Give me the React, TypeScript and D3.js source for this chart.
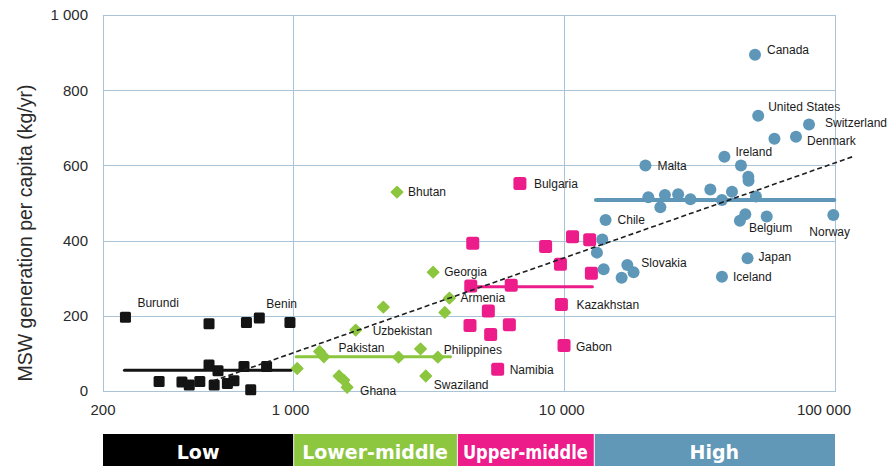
import { useEffect, useRef } from 'react';
import * as d3 from 'd3';

// GDP per capita (US$) vs MSW generation per capita (kg/yr)
const lowIncome = [
  { gdp: 242, msw: 196, name: 'Burundi' },
  { gdp: 492, msw: 179 },
  { gdp: 676, msw: 182 },
  { gdp: 754, msw: 194, name: 'Benin' },
  { gdp: 978, msw: 182 },
  { gdp: 322, msw: 25 },
  { gdp: 391, msw: 24 },
  { gdp: 416, msw: 16 },
  { gdp: 455, msw: 25 },
  { gdp: 492, msw: 69 },
  { gdp: 531, msw: 54 },
  { gdp: 514, msw: 16 },
  { gdp: 575, msw: 20 },
  { gdp: 608, msw: 27 },
  { gdp: 662, msw: 65 },
  { gdp: 701, msw: 3 },
  { gdp: 802, msw: 65 },
];

const lowerMiddle = [
  { gdp: 2427, msw: 529, name: 'Bhutan' },
  { gdp: 3298, msw: 316, name: 'Georgia' },
  { gdp: 3788, msw: 247, name: 'Armenia' },
  { gdp: 2161, msw: 223 },
  { gdp: 3641, msw: 209 },
  { gdp: 1709, msw: 162, name: 'Uzbekistan' },
  { gdp: 1257, msw: 105, name: 'Pakistan' },
  { gdp: 1304, msw: 91 },
  { gdp: 2459, msw: 90 },
  { gdp: 2963, msw: 112 },
  { gdp: 3433, msw: 90, name: 'Philippines' },
  { gdp: 1040, msw: 60 },
  { gdp: 1484, msw: 40 },
  { gdp: 1544, msw: 29 },
  { gdp: 1589, msw: 10, name: 'Ghana' },
  { gdp: 3099, msw: 40, name: 'Swaziland' },
];

const upperMiddle = [
  { gdp: 6890, msw: 552, name: 'Bulgaria' },
  { gdp: 4617, msw: 393 },
  { gdp: 8570, msw: 384 },
  { gdp: 10770, msw: 410 },
  { gdp: 12460, msw: 402 },
  { gdp: 9720, msw: 337 },
  { gdp: 12640, msw: 313 },
  { gdp: 4540, msw: 279 },
  { gdp: 6400, msw: 281 },
  { gdp: 9800, msw: 230, name: 'Kazakhstan' },
  { gdp: 5270, msw: 213 },
  { gdp: 4510, msw: 174 },
  { gdp: 6300, msw: 176 },
  { gdp: 5375, msw: 150 },
  { gdp: 10020, msw: 121, name: 'Gabon' },
  { gdp: 5705, msw: 58, name: 'Namibia' },
];

const highIncome = [
  { gdp: 50700, msw: 894, name: 'Canada' },
  { gdp: 52100, msw: 732, name: 'United States' },
  { gdp: 80200, msw: 709, name: 'Switzerland' },
  { gdp: 59800, msw: 671 },
  { gdp: 71800, msw: 676, name: 'Denmark' },
  { gdp: 39100, msw: 623, name: 'Ireland' },
  { gdp: 45000, msw: 600 },
  { gdp: 20000, msw: 600, name: 'Malta' },
  { gdp: 47900, msw: 570 },
  { gdp: 48000, msw: 559 },
  { gdp: 34700, msw: 536 },
  { gdp: 41700, msw: 530 },
  { gdp: 20500, msw: 515 },
  { gdp: 23600, msw: 521 },
  { gdp: 26400, msw: 523 },
  { gdp: 29300, msw: 510 },
  { gdp: 22700, msw: 489 },
  { gdp: 38300, msw: 508 },
  { gdp: 51100, msw: 517 },
  { gdp: 14260, msw: 455, name: 'Chile' },
  { gdp: 46700, msw: 470 },
  { gdp: 44600, msw: 453, name: 'Belgium' },
  { gdp: 56000, msw: 464 },
  { gdp: 98600, msw: 468, name: 'Norway' },
  { gdp: 13870, msw: 403 },
  { gdp: 13250, msw: 368 },
  { gdp: 14030, msw: 324 },
  { gdp: 17150, msw: 335, name: 'Slovakia' },
  { gdp: 18080, msw: 316 },
  { gdp: 16340, msw: 301 },
  { gdp: 47600, msw: 353, name: 'Japan' },
  { gdp: 38300, msw: 304, name: 'Iceland' },
];

// group averages (horizontal bars)
const groupMeans = [55, 91, 277, 508];
const groupNames = ['Low', 'Lower-middle', 'Upper-middle', 'High'];
// income band limits along the x axis
const bandLimits = [200, 1005, 4035, 12900, 100000];
// overall trend (log-linear fit), start and end
const trendLine = [
  { gdp: 510, msw: 27 },
  { gdp: 116000, msw: 623 },
];
const xTicks = [200, 1000, 10000, 100000];
const yTicks = [0, 200, 400, 600, 800, 1000];

// label placement relative to the marker
const labelOffset: Record<string, [number, number]> = {
  Burundi: [12, -15], Benin: [7, -14], Bhutan: [11, 0], Georgia: [11, -1],
  Armenia: [11, 0], Uzbekistan: [17, 1], Pakistan: [19, -4], Philippines: [6, -7],
  Ghana: [13, 3], Swaziland: [8, 9], Bulgaria: [14, 0], Kazakhstan: [15, 0],
  Gabon: [12, 1], Namibia: [12, 0], Canada: [12, -5], 'United States': [10, -9],
  Switzerland: [16, -2], Denmark: [11, 4], Ireland: [11, -5], Malta: [12, 0],
  Chile: [12, 0], Belgium: [9, 7], Norway: [-24, 17], Japan: [11, -2],
  Iceland: [11, 0], Slovakia: [14, -2],
};

const W = 896;
const H = 466;
const COLORS = ['#141414', '#8cc63f', '#ec1c8b', '#5e97b8'];
const BAND_COLORS = ['#000000', '#8dc63f', '#ec1c8b', '#6197b7'];
const GRID = '#a9c4d7';
const FONT = '"Liberation Sans", Arial, sans-serif';

export default function App() {
  const svgRef = useRef<SVGSVGElement>(null);

  useEffect(() => {
    const svg = d3.select(svgRef.current);
    svg.selectAll('*').remove();

    const x = d3.scaleLog().domain([200, 100000]).range([103, 835]);
    const y = d3.scaleLinear().domain([0, 1000]).range([391, 15]);
    const fmt = d3.formatLocale({ decimal: '.', thousands: ' ', grouping: [3], currency: ['', ''] }).format(',d');

    const groups = [lowIncome, lowerMiddle, upperMiddle, highIncome];

    // grid
    const grid = svg.append('g').attr('stroke', GRID).attr('stroke-width', 1).attr('fill', 'none');
    yTicks.slice(1, -1).forEach(t => {
      grid.append('line').attr('x1', x(200)).attr('x2', x(100000))
        .attr('y1', Math.round(y(t)) + 0.5).attr('y2', Math.round(y(t)) + 0.5);
    });
    [1000, 10000].forEach(t => {
      grid.append('line').attr('x1', Math.round(x(t)) + 0.5).attr('x2', Math.round(x(t)) + 0.5)
        .attr('y1', y(0)).attr('y2', y(1000));
    });
    grid.append('rect')
      .attr('x', Math.round(x(200)) + 0.5).attr('y', Math.round(y(1000)) + 0.5)
      .attr('width', Math.round(x(100000) - x(200))).attr('height', Math.round(y(0) - y(1000)));

    // y axis labels
    svg.append('g').selectAll('text').data(yTicks).enter().append('text')
      .attr('x', 88).attr('y', d => y(d)).attr('dy', '0.36em')
      .attr('text-anchor', 'end').attr('font-family', FONT).attr('font-size', 15)
      .attr('fill', '#2a2a2a').text(d => fmt(d));

    svg.append('text')
      .attr('transform', `translate(32,${(y(0) + y(1000)) / 2 + 30}) rotate(-90)`)
      .attr('text-anchor', 'middle').attr('font-family', FONT).attr('font-size', 19.5)
      .attr('fill', '#2a2a2a').text('MSW generation per capita (kg/yr)');

    // x axis labels
    svg.append('g').selectAll('text').data(xTicks).enter().append('text')
      .attr('x', d => x(d) - (d >= 100000 ? 11 : d >= 1000 ? 2 : 0)).attr('y', 415)
      .attr('text-anchor', 'middle').attr('font-family', FONT).attr('font-size', 15)
      .attr('fill', '#2a2a2a').text(d => fmt(d));

    // group mean lines
    groups.forEach((g, i) => {
      const [x0, x1] = d3.extent(g, d => d.gdp) as [number, number];
      svg.append('line')
        .attr('x1', x(x0) - 1).attr('x2', x(x1) + 1)
        .attr('y1', y(groupMeans[i])).attr('y2', y(groupMeans[i]))
        .attr('stroke', COLORS[i]).attr('stroke-width', i === 3 ? 4 : 3)
        .attr('stroke-linecap', 'round');
    });

    // points
    const diamond = d3.symbol().type(d3.symbolSquare).size(64);
    groups.forEach((g, i) => {
      const layer = svg.append('g');
      g.forEach(d => {
        const px = x(d.gdp);
        const py = y(d.msw);
        if (i === 0) {
          layer.append('rect').attr('x', px - 5.5).attr('y', py - 5.5)
            .attr('width', 11).attr('height', 11).attr('rx', 1.5)
            .attr('fill', COLORS[0]);
        } else if (i === 1) {
          layer.append('path').attr('d', diamond())
            .attr('transform', `translate(${px},${py}) rotate(45)`)
            .attr('fill', COLORS[1]).attr('stroke', COLORS[1])
            .attr('stroke-width', 1.5).attr('stroke-linejoin', 'round');
        } else if (i === 2) {
          layer.append('rect').attr('x', px - 6.5).attr('y', py - 6.5)
            .attr('width', 13).attr('height', 13).attr('rx', 2.5)
            .attr('fill', COLORS[2]);
        } else {
          layer.append('circle').attr('cx', px).attr('cy', py).attr('r', 6)
            .attr('fill', COLORS[3]);
        }
      });
    });

    // trend
    const line = d3.line<{ gdp: number; msw: number }>().x(d => x(d.gdp)).y(d => y(d.msw));
    svg.append('path').datum(trendLine).attr('d', line)
      .attr('fill', 'none').attr('stroke', '#1e1e1e').attr('stroke-width', 1.6)
      .attr('stroke-dasharray', '5,3');

    // country labels
    const labels = svg.append('g').attr('font-family', FONT).attr('font-size', 12).attr('fill', '#1a1a1a');
    groups.flat().filter(d => d.name).forEach(d => {
      const [dx, dy] = labelOffset[d.name as string] || [11, 0];
      labels.append('text')
        .attr('x', x(d.gdp) + dx).attr('y', y(d.msw) + dy).attr('dy', '0.36em')
        .text(d.name as string);
    });

    // income band
    const band = svg.append('g');
    groupNames.forEach((name, i) => {
      const x0 = x(bandLimits[i]);
      const x1 = x(bandLimits[i + 1]);
      band.append('rect')
        .attr('x', x0 + (i === 0 ? 0 : 1)).attr('y', 434)
        .attr('width', x1 - x0 - (i === 0 ? 0 : 1)).attr('height', H - 434 + 4)
        .attr('fill', BAND_COLORS[i]);
      const t = band.append('text')
        .attr('x', (x0 + x1) / 2).attr('y', 459)
        .attr('text-anchor', 'middle').attr('font-family', '"DejaVu Sans", sans-serif')
        .attr('font-weight', 'bold').attr('font-size', 19).attr('fill', '#ffffff')
        .text(name);
      // squeeze labels that would not fit inside their band
      const node = t.node() as SVGTextElement;
      const avail = x1 - x0 - 12;
      if (node && node.getComputedTextLength() > avail) {
        t.attr('textLength', avail).attr('lengthAdjust', 'spacingAndGlyphs');
      }
    });
  }, []);

  return (
    <svg
      ref={svgRef}
      width={W}
      height={H}
      style={{ position: 'absolute', left: 0, top: 0, background: '#ffffff' }}
    />
  );
}
